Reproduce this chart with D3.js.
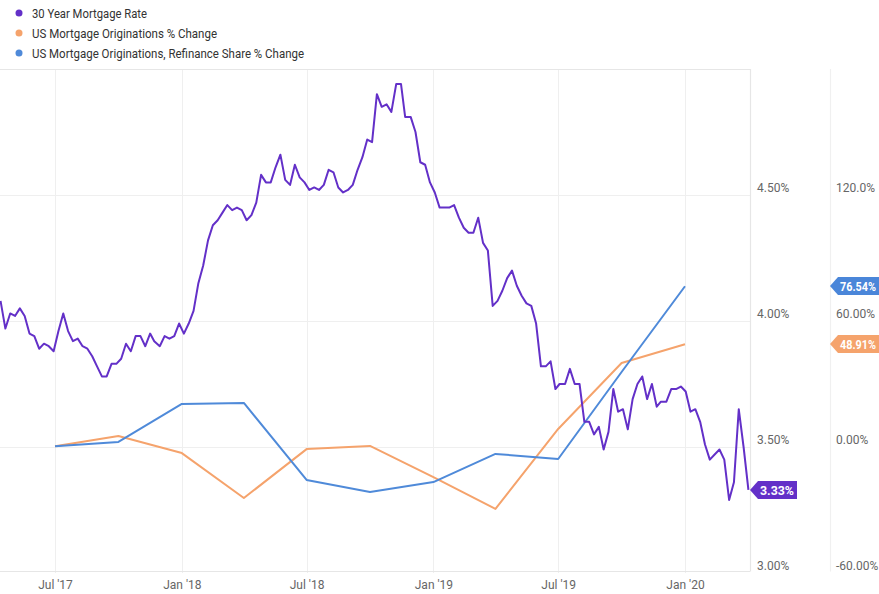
<!DOCTYPE html>
<html>
<head>
<meta charset="utf-8">
<script src="https://cdn.jsdelivr.net/npm/d3@7"></script>
<style>
  html, body { margin: 0; padding: 0; background: #fff; }
  svg { display: block; font-family: Roboto, "Noto Sans", sans-serif; }
</style>
</head>
<body>
<svg id="chart" width="879" height="594"></svg>
<script>
// ---------- DATA ----------
const seriesNames = [
  "30 Year Mortgage Rate",
  "US Mortgage Originations % Change",
  "US Mortgage Originations, Refinance Share % Change"
];
const seriesColors = ["#6330c8", "#f5a36c", "#4f8ad9"];

// Weekly 30-year mortgage rate (%)
const rateDates = [
  "2017-04-13","2017-04-20","2017-04-27","2017-05-04","2017-05-11","2017-05-18","2017-05-25","2017-06-01","2017-06-08","2017-06-15","2017-06-22","2017-06-29",
  "2017-07-06","2017-07-13","2017-07-20","2017-07-27","2017-08-03","2017-08-10","2017-08-17","2017-08-24","2017-08-31","2017-09-07","2017-09-14","2017-09-21","2017-09-28",
  "2017-10-05","2017-10-12","2017-10-19","2017-10-26","2017-11-02","2017-11-09","2017-11-16","2017-11-22","2017-11-30","2017-12-07","2017-12-14","2017-12-21","2017-12-28",
  "2018-01-04","2018-01-11","2018-01-18","2018-01-25","2018-02-01","2018-02-08","2018-02-15","2018-02-22","2018-03-01","2018-03-08","2018-03-15","2018-03-22","2018-03-29",
  "2018-04-05","2018-04-12","2018-04-19","2018-04-26","2018-05-03","2018-05-10","2018-05-17","2018-05-24","2018-05-31","2018-06-07","2018-06-14","2018-06-21","2018-06-28",
  "2018-07-05","2018-07-12","2018-07-19","2018-07-26","2018-08-02","2018-08-09","2018-08-16","2018-08-23","2018-08-30","2018-09-06","2018-09-13","2018-09-20","2018-09-27",
  "2018-10-04","2018-10-11","2018-10-18","2018-10-25","2018-11-01","2018-11-08","2018-11-15","2018-11-21","2018-11-29","2018-12-06","2018-12-13","2018-12-20","2018-12-27",
  "2019-01-03","2019-01-10","2019-01-17","2019-01-24","2019-01-31","2019-02-07","2019-02-14","2019-02-21","2019-02-28","2019-03-07","2019-03-14","2019-03-21","2019-03-28",
  "2019-04-04","2019-04-11","2019-04-18","2019-04-25","2019-05-02","2019-05-09","2019-05-16","2019-05-23","2019-05-30","2019-06-06","2019-06-13","2019-06-20","2019-06-27",
  "2019-07-03","2019-07-11","2019-07-18","2019-07-25","2019-08-01","2019-08-08","2019-08-15","2019-08-22","2019-08-29","2019-09-05","2019-09-12","2019-09-19","2019-09-26",
  "2019-10-03","2019-10-10","2019-10-17","2019-10-24","2019-10-31","2019-11-07","2019-11-14","2019-11-21","2019-11-27","2019-12-05","2019-12-12","2019-12-19","2019-12-26",
  "2020-01-02","2020-01-09","2020-01-16","2020-01-23","2020-01-30","2020-02-06","2020-02-13","2020-02-20","2020-02-27","2020-03-05","2020-03-12","2020-03-19","2020-03-26","2020-04-02"
];
const rateValues = [
  4.08,3.97,4.03,4.02,4.05,4.02,3.95,3.94,3.89,3.91,3.90,3.88,
  3.96,4.03,3.96,3.92,3.93,3.90,3.89,3.86,3.82,3.78,3.78,3.83,3.83,
  3.85,3.91,3.88,3.94,3.94,3.90,3.95,3.92,3.90,3.94,3.93,3.94,3.99,
  3.95,3.99,4.04,4.15,4.22,4.32,4.38,4.40,4.43,4.46,4.44,4.45,4.44,
  4.40,4.42,4.47,4.58,4.55,4.55,4.61,4.66,4.56,4.54,4.62,4.57,4.55,
  4.52,4.53,4.52,4.54,4.60,4.59,4.53,4.51,4.52,4.54,4.60,4.65,4.72,
  4.71,4.90,4.85,4.86,4.83,4.94,4.94,4.81,4.81,4.75,4.63,4.62,4.55,
  4.51,4.45,4.45,4.45,4.46,4.41,4.37,4.35,4.35,4.41,4.31,4.28,4.06,
  4.08,4.12,4.17,4.20,4.14,4.10,4.07,4.06,3.99,3.82,3.82,3.84,3.73,
  3.75,3.75,3.81,3.75,3.75,3.60,3.60,3.55,3.58,3.49,3.56,3.73,3.64,
  3.65,3.57,3.69,3.75,3.78,3.69,3.75,3.66,3.68,3.68,3.73,3.73,3.74,
  3.72,3.64,3.65,3.60,3.51,3.45,3.47,3.49,3.45,3.29,3.36,3.65,3.50,3.33
];

// Quarterly originations series (% change)
const quarterDates = ["2017-07-01","2017-10-01","2018-01-01","2018-04-01","2018-07-01","2018-10-01",
                      "2019-01-01","2019-04-01","2019-07-01","2019-10-01","2020-01-01"];
const originationsChange = [0.4, 5.2, -2.9, -24.3, -1.0, 0.5, -14.3, -29.5, 8.6, 40.0, 48.91];
const refiShareChange    = [0.4, 2.4, 20.5, 21.0, -15.7, -21.4, -16.7, -3.3, -5.7, 35.7, 76.54];

// Axis ticks
const leftTicks  = [3.0, 3.5, 4.0, 4.5];
const leftTickLabels  = ["3.00%", "3.50%", "4.00%", "4.50%"];
const rightTicks = [-60, 0, 60, 120];
const rightTickLabels = ["-60.00%", "0.00%", "60.00%", "120.0%"];
const xTickDates  = ["2017-07-01","2018-01-01","2018-07-01","2019-01-01","2019-07-01","2020-01-01"];
const xTickLabels = ["Jul '17","Jan '18","Jul '18","Jan '19","Jul '19","Jan '20"];

// ---------- LAYOUT ----------
const svg = d3.select("#chart");
const parse = d3.utcParse("%Y-%m-%d");
const plot = { left: 0, right: 750, top: 69, bottom: 573 };
const axisSep = 830;
const gridColor = "#efefef";
const frameColor = "#e6e6e6";

const x = d3.scaleUtc()
  .domain([parse("2017-07-01"), parse("2020-01-01")])
  .range([55, 685]);
const yL = d3.scaleLinear().domain([3.0, 5.0]).range([plot.bottom, plot.top]);
const yR = d3.scaleLinear().domain([-60, 180]).range([plot.bottom, plot.top]);

// clip
svg.append("defs").append("clipPath").attr("id", "clip")
  .append("rect").attr("x", plot.left).attr("y", plot.top)
  .attr("width", plot.right - plot.left).attr("height", plot.bottom - plot.top);

// horizontal grid
svg.append("g").selectAll("line").data(leftTicks.slice(1)).join("line")
  .attr("x1", plot.left).attr("x2", plot.right)
  .attr("y1", d => Math.round(yL(d)) + 0.5).attr("y2", d => Math.round(yL(d)) + 0.5)
  .attr("stroke", gridColor).attr("stroke-width", 1);

// vertical grid
svg.append("g").selectAll("line").data(xTickDates).join("line")
  .attr("x1", d => Math.round(x(parse(d))) + 0.5).attr("x2", d => Math.round(x(parse(d))) + 0.5)
  .attr("y1", plot.top).attr("y2", plot.bottom)
  .attr("stroke", gridColor).attr("stroke-width", 1);

// frame
const frame = svg.append("g").attr("stroke", frameColor).attr("stroke-width", 1.2).attr("fill", "none");
frame.append("line").attr("x1", 0).attr("x2", plot.right).attr("y1", plot.top + 0.5).attr("y2", plot.top + 0.5);
frame.append("line").attr("x1", 0).attr("x2", plot.right).attr("y1", plot.bottom - 1.5).attr("y2", plot.bottom - 1.5);
frame.append("line").attr("x1", plot.right + 0.5).attr("x2", plot.right + 0.5).attr("y1", plot.top).attr("y2", plot.bottom - 1.5);
frame.append("line").attr("x1", axisSep + 0.5).attr("x2", axisSep + 0.5).attr("y1", plot.top).attr("y2", plot.bottom - 1.5)
  .attr("stroke", "#f0f0f0");

// ---------- LINES ----------
const linesG = svg.append("g").attr("clip-path", "url(#clip)");
const rateData = rateDates.map((d, i) => ({ date: parse(d), v: rateValues[i] }));
const origData = quarterDates.map((d, i) => ({ date: parse(d), v: originationsChange[i] }));
const refiData = quarterDates.map((d, i) => ({ date: parse(d), v: refiShareChange[i] }));

const lineL = d3.line().x(d => x(d.date)).y(d => yL(d.v));
const lineR = d3.line().x(d => x(d.date)).y(d => yR(d.v));

linesG.append("path").datum(origData).attr("d", lineR)
  .attr("fill", "none").attr("stroke", seriesColors[1]).attr("stroke-width", 2).attr("stroke-linejoin", "round");
linesG.append("path").datum(refiData).attr("d", lineR)
  .attr("fill", "none").attr("stroke", seriesColors[2]).attr("stroke-width", 2).attr("stroke-linejoin", "round");
linesG.append("path").datum(rateData).attr("d", lineL)
  .attr("fill", "none").attr("stroke", seriesColors[0]).attr("stroke-width", 2).attr("stroke-linejoin", "round");

// ---------- AXES ----------
const leftAxis = d3.axisRight(yL).tickValues(leftTicks).tickSize(0)
  .tickFormat((d, i) => leftTickLabels[i]);
const gL = svg.append("g").attr("transform", `translate(${plot.right + 7},-7)`).call(leftAxis);
gL.select(".domain").remove();
gL.selectAll("text").attr("x", 0).attr("fill", "#666").attr("font-size", 12)
  .attr("font-family", "Roboto, sans-serif");

const rightAxis = d3.axisRight(yR).tickValues(rightTicks).tickSize(0)
  .tickFormat((d, i) => rightTickLabels[i]);
const gR = svg.append("g").attr("transform", `translate(${axisSep + 6},-7)`).call(rightAxis);
gR.select(".domain").remove();
gR.selectAll("text").attr("x", 0).attr("fill", "#666").attr("font-size", 12)
  .attr("font-family", "Roboto, sans-serif");

const bottomAxis = d3.axisBottom(x).tickValues(xTickDates.map(parse)).tickSize(0)
  .tickFormat((d, i) => xTickLabels[i]);
const gB = svg.append("g").attr("transform", `translate(0,${plot.bottom + 4})`).call(bottomAxis);
gB.select(".domain").remove();
gB.selectAll("text").attr("fill", "#666").attr("font-size", 12).attr("font-family", "Roboto, sans-serif");

// ---------- VALUE TAGS ----------
function tag(xLeft, width, yVal, color, label) {
  const h = 18, a = 8;
  const y0 = Math.round(yVal);
  const g = svg.append("g");
  g.append("path")
    .attr("d", `M${xLeft},${y0} L${xLeft + a},${y0 - h / 2} L${xLeft + width},${y0 - h / 2} L${xLeft + width},${y0 + h / 2} L${xLeft + a},${y0 + h / 2} Z`)
    .attr("fill", color);
  g.append("text").attr("x", xLeft + a + 2).attr("y", y0 + 4.5)
    .attr("fill", "#fff").attr("font-size", 12).attr("font-weight", "bold")
    .attr("font-family", "Roboto, sans-serif")
    .attr("textLength", width - a - 5).attr("lengthAdjust", "spacingAndGlyphs")
    .text(label);
}
const lastRate = rateData[rateData.length - 1];
const lastOrig = origData[origData.length - 1];
const lastRefi = refiData[refiData.length - 1];
tag(plot.right, 47, yL(lastRate.v), seriesColors[0], lastRate.v.toFixed(2) + "%");
tag(axisSep, 49, yR(lastRefi.v), "#4a86d9", lastRefi.v.toFixed(2) + "%");
tag(axisSep, 49, yR(lastOrig.v), "#f5a36c", lastOrig.v.toFixed(2) + "%");

// ---------- LEGEND ----------
const legendLengths = [115, 185, 272];
const legend = svg.append("g");
seriesNames.forEach((name, i) => {
  const yy = 13 + i * 20;
  legend.append("circle").attr("cx", 19).attr("cy", yy).attr("r", 3.5).attr("fill", seriesColors[i]);
  legend.append("text").attr("x", 32).attr("y", yy + 4.5)
    .attr("font-size", 13).attr("fill", "#333")
    .attr("font-family", "Roboto, sans-serif")
    .attr("textLength", legendLengths[i]).attr("lengthAdjust", "spacingAndGlyphs")
    .text(name);
});
</script>
</body>
</html>
